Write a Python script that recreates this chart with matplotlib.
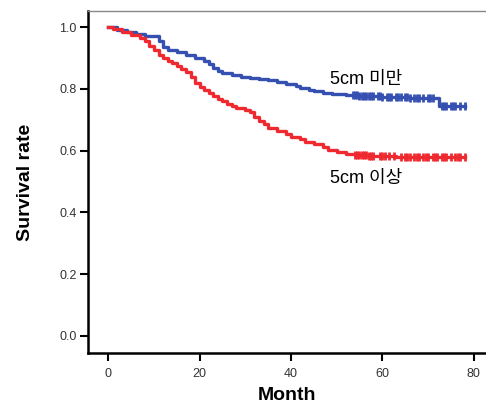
import numpy as np
import matplotlib
matplotlib.use("Agg")
import matplotlib.pyplot as plt

plt.rcParams['font.family'] = ['Liberation Sans', 'Noto Sans CJK KR', 'DejaVu Sans']

# Kaplan-Meier steps (month, survival)
small_t = [0, 2, 4, 6, 8, 10, 11, 12, 13, 15, 17, 19, 21, 22, 23, 24, 25, 27, 29, 31,
           33, 35, 37, 39, 41, 42, 44, 45, 47, 49, 52, 55, 60, 66, 72.5, 78]
small_s = [1.0, 0.99, 0.985, 0.977, 0.972, 0.970, 0.955, 0.935, 0.927, 0.918, 0.910, 0.900,
           0.889, 0.880, 0.867, 0.858, 0.851, 0.845, 0.840, 0.836, 0.831, 0.828, 0.822, 0.815,
           0.808, 0.802, 0.797, 0.793, 0.788, 0.785, 0.781, 0.778, 0.775, 0.772, 0.743, 0.743]
small_cens = [53.5, 54, 54.5, 55, 55.5, 56, 56.5, 57, 57.5, 58, 59, 59.5, 60, 61, 61.5, 62,
              63, 63.5, 64, 65, 65.5, 66, 67, 67.5, 68, 69, 70, 70.5, 71, 73, 73.5, 74, 75,
              75.5, 76, 77, 78]

large_t = [0, 1, 3, 5, 7, 8, 9, 10, 11, 12, 13, 14, 15, 16, 17, 18, 19, 20, 21, 22, 23, 24,
           25, 26, 27, 28, 30, 31, 32, 33, 34, 35, 37, 39, 40, 42, 43, 45, 47, 48, 50, 52, 54,
           57, 63, 78]
large_s = [1.0, 0.995, 0.985, 0.975, 0.965, 0.955, 0.94, 0.925, 0.91, 0.9, 0.89, 0.884,
           0.875, 0.865, 0.856, 0.84, 0.82, 0.805, 0.795, 0.787, 0.778, 0.768, 0.76, 0.75,
           0.745, 0.738, 0.732, 0.725, 0.71, 0.695, 0.685, 0.672, 0.662, 0.655, 0.645, 0.637,
           0.628, 0.62, 0.612, 0.602, 0.595, 0.59, 0.586, 0.584, 0.58, 0.58]
large_cens = [54, 54.5, 55, 55.5, 56, 56.5, 57, 57.5, 58, 59.5, 60, 60.5, 61.5, 62.5, 64, 65,
              65.5, 66, 67, 67.5, 68, 69, 69.5, 70, 71, 71.5, 72, 73, 73.5, 74, 75, 76, 76.5,
              77, 78]

blue = '#3550b0'
red = '#ee2a30'


def step_value(times, surv, t):
    idx = np.searchsorted(times, t, side='right') - 1
    return np.array(surv)[idx]


fig = plt.figure(figsize=(4.86, 4.05), dpi=100)
ax = fig.add_axes([0.181, 0.128, 0.819, 0.845])

for t, s, c, col in [(small_t, small_s, small_cens, blue), (large_t, large_s, large_cens, red)]:
    ax.step(t, s, where='post', color=col, lw=2.4, solid_joinstyle='round')
    ax.plot(c, step_value(t, s, c), ls='none', marker='|', ms=5.5, mew=2.0, color=col)

ax.text(48.5, 0.829, '5cm 미만', fontsize=13, va='center', ha='left',
        family=['Liberation Sans', 'Noto Sans CJK KR'])
ax.text(48.5, 0.511, '5cm 이상', fontsize=13, va='center', ha='left',
        family=['Liberation Sans', 'Noto Sans CJK KR'])

ax.set_xlim(-4.45, 82.7)
ax.set_ylim(-0.056, 1.0525)
ax.set_xticks([0, 20, 40, 60, 80])
ax.set_yticks([0.0, 0.2, 0.4, 0.6, 0.8, 1.0])
ax.set_yticklabels(['0.0', '0.2', '0.4', '0.6', '0.8', '1.0'])
ax.tick_params(direction='out', length=6, width=1.5, labelsize=9, labelcolor='#333333')
ax.tick_params(axis='x', pad=5)
ax.tick_params(axis='y', pad=2)

ax.spines['right'].set_visible(False)
ax.spines['top'].set_color('#888888')
ax.spines['top'].set_linewidth(1.0)
ax.spines['left'].set_linewidth(1.8)
ax.spines['bottom'].set_linewidth(1.8)

ax.set_xlabel('Month', fontsize=14, fontweight='bold', labelpad=5)
ax.set_ylabel('Survival rate', fontsize=14, fontweight='bold', labelpad=18)

fig.savefig('out.png', dpi=100)
